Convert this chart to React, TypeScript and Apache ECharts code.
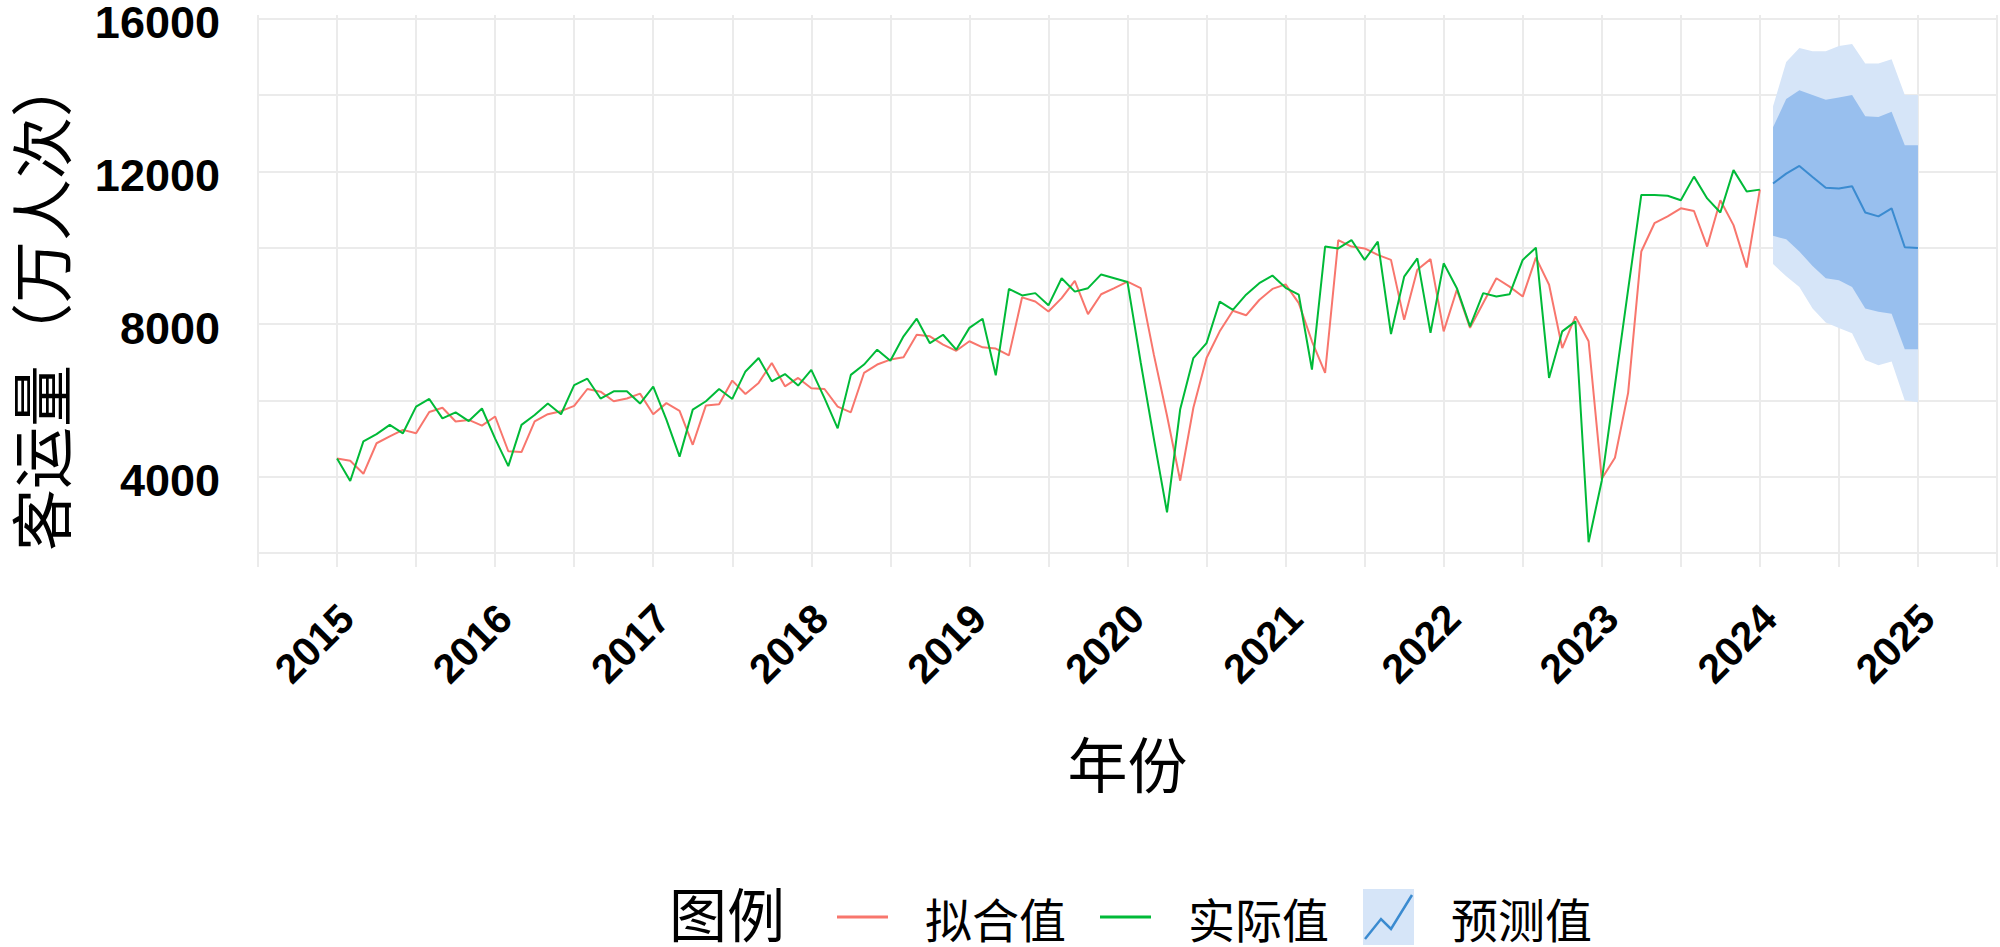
import React, { useEffect, useRef } from "react";
import * as echarts from "echarts";

// Monthly series, January 2015 .. January 2024
const START_YEAR = 2015;
const actual: number[] = [
  4480, 3890, 4930, 5120, 5360, 5140, 5840, 6040, 5530, 5690, 5460, 5790,
  5000, 4280, 5360, 5620, 5920, 5640, 6400, 6570, 6050, 6240, 6240, 5920,
  6360, 5500, 4530, 5760, 5980, 6300, 6040, 6760, 7110, 6500, 6690, 6390,
  6800, 6060, 5270, 6670, 6940, 7330, 7040, 7680, 8140, 7500, 7720, 7330,
  7900, 8140, 6660, 8920, 8750, 8810, 8490, 9200, 8850, 8940, 9300, 9200,
  9100, 7000, 5000, 3070, 5770, 7110, 7500, 8590, 8370, 8770, 9070, 9270,
  8950, 8770, 6810, 10030, 9980, 10200, 9680, 10160, 7740, 9240, 9720, 7770,
  9590, 8940, 7940, 8810, 8720, 8780, 9680, 10000, 6590, 7810, 8070, 2290,
  3900, 6400, 8900, 11380, 11380, 11360, 11240, 11860, 11290, 10920, 12030, 11470,
  11520,
];
const fitted: number[] = [
  4480, 4420, 4080, 4880, 5060, 5230, 5140, 5700, 5810, 5450, 5490, 5340,
  5580, 4670, 4650, 5450, 5640, 5720, 5860, 6300, 6230, 5980, 6050, 6180,
  5640, 5930, 5730, 4840, 5870, 5900, 6520, 6170, 6460, 6980, 6370, 6590,
  6320, 6300, 5840, 5690, 6720, 6940, 7070, 7130, 7720, 7680, 7460, 7300,
  7550, 7390, 7360, 7180, 8700, 8590, 8330, 8680, 9130, 8260, 8780, 8940,
  9110, 8940, 7200, 5600, 3900, 5810, 7110, 7810, 8350, 8230, 8630, 8920,
  9040, 8550, 7550, 6720, 10200, 10030, 9980, 9810, 9680, 8110, 9420, 9700,
  7810, 8900, 7900, 8550, 9200, 8980, 8720, 9740, 9030, 7370, 8200, 7550,
  3950, 4500, 6200, 9900, 10640, 10820, 11030, 10960, 10030, 11240, 10590, 9480,
  11520,
];
// Forecast, February 2024 .. January 2025
const FORECAST_START = 109; // month index of Feb 2024
const forecastMean: number[] = [11680, 11940, 12140, 11850, 11570, 11550, 11610, 10920, 10820, 11030, 10010, 9990];
const lo80: number[] = [10310, 10220, 9900, 9520, 9200, 9150, 8970, 8410, 8320, 8270, 7340, 7340];
const hi80: number[] = [13150, 13890, 14120, 14000, 13870, 13930, 14000, 13440, 13420, 13560, 12680, 12680];
const lo95: number[] = [9570, 9250, 8970, 8410, 8040, 7900, 7760, 7060, 6920, 7020, 6000, 5950];
const hi95: number[] = [13700, 14860, 15230, 15140, 15140, 15280, 15330, 14820, 14820, 14930, 14000, 14000];

const legendNames = ["拟合值", "实际值", "预测值"];
const xTitle = "年份";
const yTitle = "客运量（万人次）";
const legendTitle = "图例";

const monthX = (i: number) => START_YEAR + i / 12;
const fcX = forecastMean.map((_, i) => monthX(FORECAST_START + i));

const RED = "#F8766D";
const GREEN = "#00BA38";
const BLUE = "#3b8bd0";
const BAND80 = "#98bfee";
const BAND95 = "#d6e5f8";

function svgIcon(inner: string) {
  const svg = `<svg xmlns="http://www.w3.org/2000/svg" width="83" height="56" viewBox="0 0 83 56" preserveAspectRatio="none">${inner}</svg>`;
  return "image://data:image/svg+xml;charset=utf-8," + encodeURIComponent(svg);
}
const redIcon = svgIcon(`<line x1="0" y1="28" x2="51" y2="28" stroke="${RED}" stroke-width="3"/>`);
const greenIcon = svgIcon(`<line x1="0" y1="28" x2="51" y2="28" stroke="${GREEN}" stroke-width="3"/>`);
const blueIcon = svgIcon(
  `<rect x="0" y="0" width="51" height="56" fill="${BAND95}"/><polyline points="2,50 18,30 28,40 49,6" fill="none" stroke="${BLUE}" stroke-width="2.5"/>`
);

function band(lo: number[], hi: number[], fill: string) {
  return (_params: any, api: any) => {
    const pts: number[][] = [];
    for (let i = 0; i < hi.length; i++) pts.push(api.coord([fcX[i], hi[i]]));
    for (let i = lo.length - 1; i >= 0; i--) pts.push(api.coord([fcX[i], lo[i]]));
    return { type: "polygon", shape: { points: pts }, style: { fill } };
  };
}

export default function App() {
  const ref = useRef<HTMLDivElement>(null);
  useEffect(() => {
    if (!ref.current) return;
    document.body.style.margin = "0";
    const chart = echarts.init(ref.current, undefined, { renderer: "svg" });
    const numFont = "Liberation Sans";
    const cjkFont = "Noto Sans CJK SC";
    chart.setOption({
      animation: false,
      backgroundColor: "#ffffff",
      grid: { left: 250, right: 3, top: 10, bottom: 380 },
      xAxis: {
        type: "value",
        min: 2014.5,
        max: 2025.5,
        interval: 0.5,
        name: xTitle,
        nameLocation: "middle",
        nameGap: 164,
        nameTextStyle: { fontSize: 60, lineHeight: 60, color: "#000", fontFamily: cjkFont },
        axisLine: { show: false },
        axisTick: { show: false },
        splitLine: { show: true, lineStyle: { color: "#ebebeb", width: 2 } },
        axisLabel: {
          rotate: 45,
          align: "right",
          verticalAlign: "top",
          margin: 25,
          padding: [0, 7, 0, 0],
          fontSize: 41,
          fontWeight: "bold",
          color: "#000",
          fontFamily: numFont,
          formatter: (v: number) => (Number.isInteger(v) ? String(v) : ""),
        },
      },
      yAxis: {
        type: "value",
        min: 1640,
        max: 16090,
        splitNumber: 7,
        name: yTitle,
        nameLocation: "middle",
        nameGap: 188,
        nameRotate: 90,
        nameTextStyle: { fontSize: 62, lineHeight: 62, color: "#000", fontFamily: cjkFont, padding: [0, 24, 0, 0] },
        axisLine: { show: false },
        axisTick: { show: false },
        splitLine: { show: true, showMinLine: false, showMaxLine: false, lineStyle: { color: "#ebebeb", width: 2 } },
        axisLabel: {
          margin: 38,
          verticalAlign: "top",
          lineHeight: 8,
          fontSize: 45,
          fontWeight: "bold",
          color: "#000",
          fontFamily: numFont,
          showMinLabel: false,
          showMaxLabel: false,
          formatter: (v: number) => (v % 4000 === 0 ? String(v) : ""),
        },
      },
      legend: {
        left: 832,
        top: 884,
        itemWidth: 83,
        itemHeight: 56,
        itemGap: 34,
        selectedMode: false,
        textStyle: { fontSize: 47, lineHeight: 56, color: "#000", fontFamily: cjkFont },
        data: [
          { name: legendNames[0], icon: redIcon },
          { name: legendNames[1], icon: greenIcon },
          { name: legendNames[2], icon: blueIcon },
        ],
      },
      graphic: [
        {
          type: "text",
          x: 669,
          y: 912,
          style: { text: legendTitle, fontSize: 58, lineHeight: 58, fill: "#000", fontFamily: cjkFont, verticalAlign: "middle", align: "left" },
        },
      ],
      series: [
        {
          name: legendNames[0],
          type: "line",
          data: fitted.map((v, i) => [monthX(i), v]),
          showSymbol: false,
          symbol: "none",
          lineStyle: { color: RED, width: 2 },
          itemStyle: { color: RED },
          z: 2,
        },
        {
          name: legendNames[1],
          type: "line",
          data: actual.map((v, i) => [monthX(i), v]),
          showSymbol: false,
          symbol: "none",
          lineStyle: { color: GREEN, width: 2 },
          itemStyle: { color: GREEN },
          z: 3,
        },
        {
          name: "95%区间",
          type: "custom",
          renderItem: band(lo95, hi95, BAND95),
          data: [[fcX[0], forecastMean[0]]],
          silent: true,
          z: 4,
        },
        {
          name: "80%区间",
          type: "custom",
          renderItem: band(lo80, hi80, BAND80),
          data: [[fcX[0], forecastMean[0]]],
          silent: true,
          z: 5,
        },
        {
          name: legendNames[2],
          type: "line",
          data: forecastMean.map((v, i) => [fcX[i], v]),
          showSymbol: false,
          symbol: "none",
          lineStyle: { color: BLUE, width: 2 },
          itemStyle: { color: BLUE },
          z: 6,
        },
      ],
    });
    return () => chart.dispose();
  }, []);
  return <div ref={ref} style={{ width: "2000px", height: "947px", background: "#fff" }} />;
}
